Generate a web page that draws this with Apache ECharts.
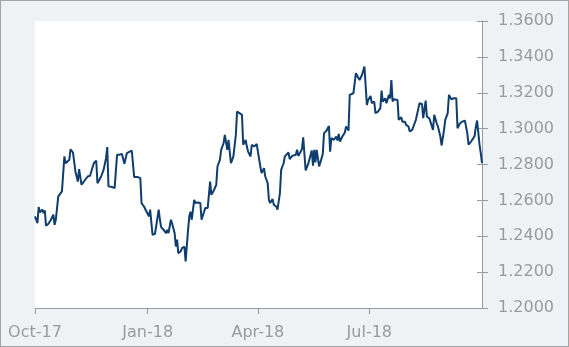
<!DOCTYPE html>
<html>
<head>
<meta charset="utf-8">
<script src="https://cdn.jsdelivr.net/npm/echarts@6/dist/echarts.min.js"></script>
<style>
html,body{margin:0;padding:0;}
#wrap{width:569px;height:347px;box-sizing:border-box;border:1px solid #a3a3a3;background:#eff2f5;}
#chart{width:567px;height:345px;}
</style>
</head>
<body>
<div id="wrap"><div id="chart"></div></div>
<script>
const dates = [
'2017-10-01','2017-10-02','2017-10-03','2017-10-04','2017-10-05','2017-10-07','2017-10-08','2017-10-09','2017-10-10','2017-10-12',
'2017-10-14','2017-10-16','2017-10-17','2017-10-18','2017-10-20','2017-10-21','2017-10-23','2017-10-25','2017-10-26','2017-10-29',
'2017-10-30','2017-11-01','2017-11-03','2017-11-04','2017-11-05','2017-11-06','2017-11-08','2017-11-09','2017-11-11','2017-11-13',
'2017-11-15','2017-11-16','2017-11-17','2017-11-18','2017-11-20','2017-11-21','2017-11-22','2017-11-24','2017-11-26','2017-11-28',
'2017-11-29','2017-11-30','2017-12-03','2017-12-05','2017-12-07','2017-12-09','2017-12-11','2017-12-12','2017-12-13','2017-12-15',
'2017-12-16','2017-12-19','2017-12-20','2017-12-21','2017-12-24','2017-12-26','2017-12-27','2017-12-29','2017-12-31','2018-01-02',
'2018-01-03','2018-01-05','2018-01-07','2018-01-08','2018-01-10','2018-01-11','2018-01-12','2018-01-14','2018-01-15','2018-01-16',
'2018-01-17','2018-01-18','2018-01-20','2018-01-21','2018-01-23','2018-01-24','2018-01-25','2018-01-26','2018-01-28','2018-01-29',
'2018-01-31','2018-02-01','2018-02-03','2018-02-04','2018-02-05','2018-02-06','2018-02-08','2018-02-09','2018-02-11','2018-02-13',
'2018-02-14','2018-02-15','2018-02-17','2018-02-19','2018-02-21','2018-02-22','2018-02-24','2018-02-26','2018-02-27','2018-03-01',
'2018-03-02','2018-03-04','2018-03-05','2018-03-07','2018-03-08','2018-03-10','2018-03-11','2018-03-12','2018-03-14','2018-03-15',
'2018-03-17','2018-03-19','2018-03-20','2018-03-22','2018-03-23','2018-03-24','2018-03-26','2018-03-27','2018-03-29','2018-03-31',
'2018-04-01','2018-04-03','2018-04-04','2018-04-06','2018-04-07','2018-04-09','2018-04-10','2018-04-11','2018-04-13','2018-04-14',
'2018-04-16','2018-04-17','2018-04-19','2018-04-20','2018-04-22','2018-04-23','2018-04-24','2018-04-26','2018-04-27','2018-04-29',
'2018-04-30','2018-05-02','2018-05-03','2018-05-04','2018-05-06','2018-05-07','2018-05-08','2018-05-10','2018-05-12','2018-05-13',
'2018-05-15','2018-05-16','2018-05-17','2018-05-18','2018-05-19','2018-05-21','2018-05-22','2018-05-24','2018-05-25','2018-05-27',
'2018-05-29','2018-05-30','2018-05-31','2018-06-02','2018-06-04','2018-06-05','2018-06-06','2018-06-07','2018-06-09','2018-06-11',
'2018-06-12','2018-06-14','2018-06-15','2018-06-16','2018-06-18','2018-06-20','2018-06-21','2018-06-23','2018-06-25','2018-06-27',
'2018-06-29','2018-06-30','2018-07-02','2018-07-03','2018-07-05','2018-07-06','2018-07-08','2018-07-10','2018-07-11','2018-07-12',
'2018-07-14','2018-07-15','2018-07-17','2018-07-18','2018-07-19','2018-07-20','2018-07-21','2018-07-22','2018-07-24','2018-07-25',
'2018-07-27','2018-07-28','2018-07-30','2018-07-31','2018-08-02','2018-08-03','2018-08-05','2018-08-06','2018-08-08','2018-08-09',
'2018-08-11','2018-08-13','2018-08-14','2018-08-16','2018-08-17','2018-08-19','2018-08-20','2018-08-22','2018-08-23','2018-08-25',
'2018-08-26','2018-08-28','2018-08-29','2018-08-31','2018-09-01','2018-09-03','2018-09-04','2018-09-06','2018-09-08','2018-09-10',
'2018-09-11','2018-09-13','2018-09-15','2018-09-17','2018-09-19','2018-09-20','2018-09-22','2018-09-24','2018-09-25','2018-09-26',
'2018-09-27','2018-09-29','2018-09-30','2018-10-01'
];
const rates = [
1.2511,1.2492,1.2473,1.2563,1.2533,1.2548,1.2529,1.2544,1.2459,1.2470,
1.2492,1.2520,1.2464,1.2492,1.2622,1.2631,1.2650,1.2845,1.2807,1.2826,
1.2885,1.2867,1.2761,1.2733,1.2705,1.2774,1.2687,1.2681,1.2715,1.2733,
1.2737,1.2761,1.2756,1.2807,1.2822,1.2696,1.2705,1.2733,1.2770,1.2835,
1.2897,1.2678,1.2674,1.2668,1.2854,1.2854,1.2859,1.2867,1.2804,1.2863,
1.2867,1.2878,1.2872,1.2730,1.2730,1.2724,1.2585,1.2566,1.2538,1.2511,
1.2548,1.2408,1.2414,1.2418,1.2548,1.2492,1.2451,1.2436,1.2436,1.2418,
1.2436,1.2418,1.2492,1.2470,1.2418,1.2343,1.2381,1.2306,1.2316,1.2334,
1.2343,1.2260,1.2436,1.2511,1.2537,1.2492,1.2603,1.2585,1.2588,1.2585,
1.2492,1.2483,1.2557,1.2557,1.2705,1.2631,1.2655,1.2687,1.2789,1.2826,
1.2882,1.2919,1.2965,1.2882,1.2937,1.2807,1.2826,1.2845,1.2965,1.3095,
1.3086,1.3077,1.2910,1.2937,1.2900,1.2872,1.2845,1.2910,1.2900,1.2915,
1.2910,1.2789,1.2752,1.2780,1.2733,1.2696,1.2603,1.2585,1.2607,1.2575,
1.2566,1.2548,1.2640,1.2770,1.2807,1.2845,1.2835,1.2867,1.2830,1.2848,
1.2845,1.2854,1.2882,1.2848,1.2872,1.2887,1.2952,1.2767,1.2802,1.2807,
1.2878,1.2793,1.2882,1.2811,1.2882,1.2789,1.2811,1.2859,1.2975,1.2988,
1.3015,1.2872,1.2947,1.2937,1.2956,1.2934,1.2971,1.2928,1.2956,1.2978,
1.3012,1.2989,1.3188,1.3194,1.3197,1.3309,1.3318,1.3271,1.3299,1.3346,
1.3132,1.3160,1.3182,1.3142,1.3151,1.3086,1.3095,1.3114,1.3212,1.3151,
1.3169,1.3142,1.3188,1.3169,1.3271,1.3151,1.3164,1.3169,1.3160,1.3049,
1.3064,1.3039,1.3039,1.3021,1.3012,1.2984,1.2993,1.3012,1.3049,1.3039,
1.3142,1.3138,1.3058,1.3156,1.3067,1.3058,1.3049,1.2993,1.3077,1.3030,
1.3012,1.2956,1.2906,1.2993,1.3049,1.3086,1.3188,1.3164,1.3169,1.3169,
1.3002,1.3030,1.3039,1.3045,1.2975,1.2910,1.2928,1.2947,1.2960,1.3012,
1.3045,1.2910,1.2863,1.2807
];
const xTickDates = ['2017-10-01','2018-01-01','2018-04-01','2018-07-01'];
const xTickLabels = ['Oct-17','Jan-18','Apr-18','Jul-18'];
const xMin = '2017-10-01';
const xMax = '2018-10-01';

const ts = s => { const p = s.split('-').map(Number); return Date.UTC(p[0], p[1] - 1, p[2]); };
const tickTs = xTickDates.map(ts);
const seriesData = dates.map((d, i) => [ts(d), rates[i]]);

const chart = echarts.init(document.getElementById('chart'));
const labelFont = 'Verdana, "DejaVu Sans", sans-serif';
chart.setOption({
  animation: false,
  backgroundColor: 'transparent',
  grid: {left: 34, right: 86, top: 20, bottom: 38, show: true, backgroundColor: '#ffffff', borderWidth: 0},
  xAxis: {
    type: 'value',
    min: ts(xMin), max: ts(xMax),
    axisLine: {show: true, lineStyle: {color: '#9a9a9a', width: 1}},
    axisTick: {show: true, length: 6, lineStyle: {color: '#9a9a9a'}, customValues: tickTs},
    axisLabel: {
      customValues: tickTs,
      color: '#9a9a9a', fontSize: 16, fontFamily: labelFont, margin: 17,
      formatter: function (v) {
        let best = 0, bd = Infinity;
        tickTs.forEach((t, i) => { const dd = Math.abs(t - v); if (dd < bd) { bd = dd; best = i; } });
        return xTickLabels[best];
      }
    },
    splitLine: {show: false}
  },
  yAxis: [{
    type: 'value', position: 'right',
    min: 1.20, max: 1.36, interval: 0.02,
    axisLine: {show: true, lineStyle: {color: '#9a9a9a', width: 1}},
    axisTick: {show: true, length: 6, lineStyle: {color: '#9a9a9a'}},
    axisLabel: {color: '#9a9a9a', fontSize: 16, fontFamily: labelFont, margin: 16,
      formatter: v => v.toFixed(4)},
    splitLine: {show: false}
  }, {
    type: 'value', position: 'right',
    min: 1.20, max: 1.36, interval: 0.02,
    axisLine: {show: false},
    axisTick: {show: true, inside: true, length: 5, lineStyle: {color: '#9a9a9a'}},
    axisLabel: {show: false},
    splitLine: {show: false}
  }],
  series: [{
    type: 'line',
    yAxisIndex: 0,
    data: seriesData,
    showSymbol: false,
    symbol: 'none',
    lineStyle: {color: '#0f3d6e', width: 2},
    silent: true
  }]
});
</script>
</body>
</html>
